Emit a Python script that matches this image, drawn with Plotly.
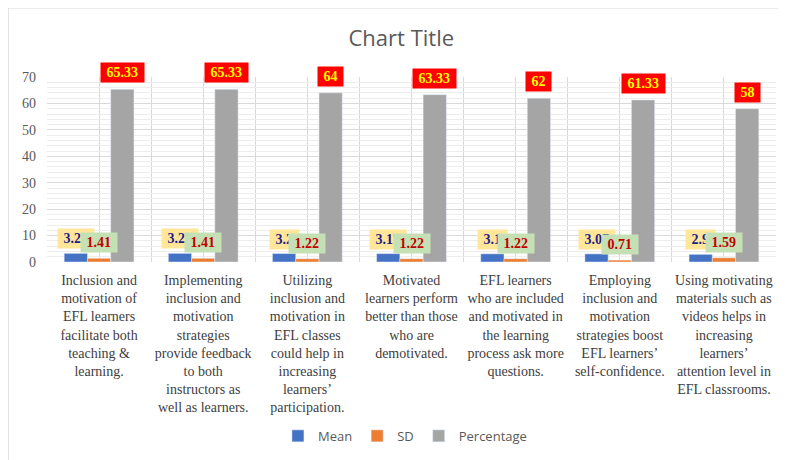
import plotly.graph_objects as go

categories = [
    "Inclusion and<br>motivation of<br>EFL learners<br>facilitate both<br>teaching &amp;<br>learning.",
    "Implementing<br>inclusion and<br>motivation<br>strategies<br>provide feedback<br>to both<br>instructors as<br>well as learners.",
    "Utilizing<br>inclusion and<br>motivation in<br>EFL classes<br>could help in<br>increasing<br>learners’<br>participation.",
    "Motivated<br>learners perform<br>better than those<br>who are<br>demotivated.",
    "EFL learners<br>who are included<br>and motivated in<br>the learning<br>process ask more<br>questions.",
    "Employing<br>inclusion and<br>motivation<br>strategies boost<br>EFL learners’<br>self-confidence.",
    "Using motivating<br>materials such as<br>videos helps in<br>increasing<br>learners’<br>attention level in<br>EFL classrooms.",
]
mean_vals = [3.27, 3.27, 3.2, 3.17, 3.1, 3.07, 2.9]
sd_vals = [1.41, 1.41, 1.22, 1.22, 1.22, 0.71, 1.59]
pct_vals = [65.33, 65.33, 64, 63.33, 62, 61.33, 58]
pct_text = ["65.33", "65.33", "64", "63.33", "62", "61.33", "58"]
y_ticks = [0, 10, 20, 30, 40, 50, 60, 70]

idx = list(range(len(categories)))
bargap = 0.33
bw = (1 - bargap) / 3

fig = go.Figure()
fig.add_bar(x=idx, y=mean_vals, name="Mean", marker_color="#4472C4")
fig.add_bar(x=idx, y=sd_vals, name="SD", marker_color="#ED7D31")
fig.add_bar(x=idx, y=pct_vals, name="Percentage", marker_color="#A5A5A5")

serif = "Liberation Serif, Times New Roman, serif"
ann = []
for i in idx:
    ann.append(dict(x=i - bw, y=mean_vals[i], text="<b> %g </b>" % mean_vals[i],
                    xref="x", yref="y", showarrow=False, yanchor="bottom", yshift=4,
                    bgcolor="#FFE699", borderpad=2,
                    font=dict(family=serif, size=14, color="#1F1F8A")))
for i in idx:
    ann.append(dict(x=i, y=sd_vals[i], text="<b> %.2f </b>" % sd_vals[i],
                    xref="x", yref="y", showarrow=False, yanchor="bottom", yshift=5,
                    bgcolor="#C5E0B4", borderpad=2,
                    font=dict(family=serif, size=14, color="#C00000")))
for i in idx:
    ann.append(dict(x=i + bw, y=pct_vals[i], text="<b> %s </b>" % pct_text[i],
                    xref="x", yref="y", showarrow=False, yanchor="bottom", yshift=6,
                    bgcolor="#FF0000", borderpad=2,
                    font=dict(family=serif, size=14, color="#FFFF00")))

fig.update_layout(
    width=778, height=452,
    margin=dict(l=39, r=10, t=69, b=198),
    paper_bgcolor="white", plot_bgcolor="white",
    barmode="group", bargap=bargap, bargroupgap=0,
    title=dict(text="Chart Title", x=0.486, xref="paper", xanchor="center",
               y=0.934, yanchor="middle",
               font=dict(family="Open Sans, sans-serif", size=22, color="#595959")),
    legend=dict(orientation="h", x=0.491, xanchor="center", y=-0.94, yanchor="middle",
                font=dict(family="Open Sans, sans-serif", size=13, color="#595959"),
                itemwidth=30, traceorder="normal"),
    annotations=ann,
    shapes=[dict(type="rect", xref="paper", yref="paper",
                 x0=-0.0535, x1=1.05, y0=-1.2, y1=1.374,
                 line=dict(color="#D9D9D9", width=1.5), fillcolor="rgba(0,0,0,0)", layer="below")],
)
fig.update_xaxes(
    range=[-0.5, len(categories) - 0.5],
    tickvals=idx, ticktext=categories,
    showgrid=False, zeroline=False, ticks="", showline=False, automargin=False,
    tickfont=dict(family=serif, size=14, color="#404040"), ticklabelstandoff=8,
    minor=dict(dtick=0.5, tick0=-0.5, showgrid=True, gridcolor="#D9D9D9", gridwidth=1),
)
fig.update_yaxes(
    range=[0, 70], tickvals=y_ticks, automargin=False,
    showgrid=True, gridcolor="#D9D9D9", gridwidth=1, zeroline=False,
    tickfont=dict(family=serif, size=14, color="#595959"),
    ticks="", ticklabelstandoff=10,
    minor=dict(dtick=2, showgrid=True, gridcolor="#EDEDED", gridwidth=1),
)
fig.write_html("out.html")
